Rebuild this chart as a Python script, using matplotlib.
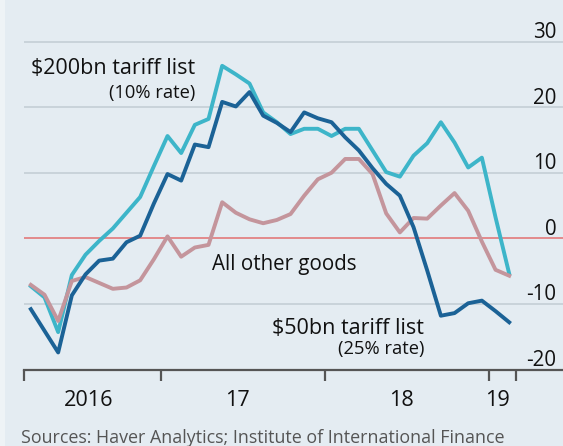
import matplotlib
matplotlib.use("Agg")
import matplotlib.pyplot as plt
from matplotlib.transforms import blended_transform_factory
from matplotlib.patches import Rectangle

plt.rcParams['font.family'] = ['Open Sans', 'DejaVu Sans']

# ---- data ----
months = ["2016-03", "2016-04", "2016-05", "2016-06", "2016-07", "2016-08",
          "2016-09", "2016-10", "2016-11", "2016-12", "2017-01", "2017-02",
          "2017-03", "2017-04", "2017-05", "2017-06", "2017-07", "2017-08",
          "2017-09", "2017-10", "2017-11", "2017-12", "2018-01", "2018-02",
          "2018-03", "2018-04", "2018-05", "2018-06", "2018-07", "2018-08",
          "2018-09", "2018-10", "2018-11", "2018-12", "2019-01", "2019-02"]

list_200bn = [-7.3, -9.0, -14.3, -5.6, -2.5, -0.4, 1.5, 3.9, 6.3, 11.0, 15.6, 13.0,
              17.3, 18.2, 26.3, 25.0, 23.6, 19.2, 17.7, 15.9, 16.7, 16.7, 15.6, 16.7,
              16.7, 13.4, 10.1, 9.4, 12.6, 14.5, 17.7, 14.6, 10.8, 12.3, 3.2, -5.4]

list_50bn = [-10.8, -14.1, -17.4, -8.7, -5.5, -3.4, -3.1, -0.6, 0.4, 5.3, 9.8, 8.8,
             14.3, 13.9, 20.8, 20.1, 22.3, 18.7, 17.6, 16.2, 19.2, 18.3, 17.7, 15.4,
             13.4, 10.7, 8.3, 6.5, 1.7, -4.9, -11.8, -11.4, -9.9, -9.5, -11.1, -12.8]

other_goods = [-7.1, -8.6, -12.6, -6.5, -5.9, -6.8, -7.7, -7.5, -6.4, -3.2, 0.3, -2.8,
               -1.4, -1.0, 5.5, 3.9, 2.9, 2.3, 2.8, 3.7, 6.5, 9.0, 10.0, 12.1,
               12.1, 9.8, 3.8, 0.9, 3.1, 3.0, 5.0, 6.9, 4.2, -0.5, -4.8, -5.7]

y_ticks = [30, 20, 10, 0, -10, -20]
year_labels = ["2016", "17", "18", "19"]
source_text = "Sources: Haver Analytics; Institute of International Finance"

# mid-month positions in fractional years
x = [int(m[:4]) + (int(m[5:]) - 1 + 0.5) / 12 for m in months]

# ---- style ----
BG = "#e4ecf2"
GRID = "#c4ced6"
C_200 = "#3db5c9"
C_50 = "#1b6296"
C_OTHER = "#c4959c"
C_ZERO = "#e28a8c"
AXIS = "#555555"

W, H = 563, 446
fig = plt.figure(figsize=(W / 100, H / 100), dpi=100, facecolor=BG)
fig.patches.append(Rectangle((0, 0), 5 / W, 1, transform=fig.transFigure,
                             facecolor="#eef3f6", edgecolor="none", zorder=0))

ax_left, ax_right = 24, 563
ax_top, ax_bottom = 0, 369.5
ax = fig.add_axes([ax_left / W, 1 - ax_bottom / H, (ax_right - ax_left) / W,
                   (ax_bottom - ax_top) / H])
ax.set_facecolor(BG)
ax.patch.set_alpha(0)

x0 = 2016 + 2 / 12
ax.set_xlim(x0, 2019.453)
ax.set_ylim(-20, 30 + 41.5 / 6.55)

for s in ["top", "right", "left"]:
    ax.spines[s].set_visible(False)
ax.spines["bottom"].set_color(AXIS)
ax.spines["bottom"].set_linewidth(1.6)

# gridlines
for v in y_ticks:
    if v == -20:
        continue
    if v == 0:
        ax.axhline(v, color=C_ZERO, lw=1.4, zorder=1)
    else:
        ax.axhline(v, color=GRID, lw=1.2, zorder=1)

# lines
ax.plot(x, list_200bn, color=C_200, lw=2.8, zorder=3, solid_joinstyle="round")
ax.plot(x, other_goods, color=C_OTHER, lw=2.8, zorder=4, solid_joinstyle="round")
ax.plot(x, list_50bn, color=C_50, lw=2.8, zorder=5, solid_joinstyle="round")

# y tick labels (right, above gridlines)
ax.set_yticks([])
tr = blended_transform_factory(ax.transAxes, ax.transData)
for v in y_ticks:
    ax.text(0.9875, v + 0.55, f"{v}", transform=tr, ha="right", va="baseline",
            fontsize=14.8, color="#111111")

# x ticks
tick_pos = [x0, 2017, 2018, 2019, 2019 + 2 / 12]
ax.set_xticks(tick_pos)
ax.set_xticklabels([""] * len(tick_pos))
ax.tick_params(axis="x", direction="out", length=8, width=1.6, color=AXIS)
label_pos = [2016.56, 2017.47, 2018.47, 2019.055]
trx = blended_transform_factory(ax.transData, fig.transFigure)
for p, lab in zip(label_pos, year_labels):
    ax.text(p, 1 - 406 / H, lab, transform=trx, ha="center", va="baseline",
            fontsize=15.6, color="#111111")

# annotations
ax.text(2017.212, 25.1, "$200bn tariff list", ha="right", va="baseline",
        fontsize=15.5, color="#111111", zorder=6)
ax.text(2017.212, 21.4, "(10% rate)", ha="right", va="baseline",
        fontsize=13.2, color="#111111", zorder=6)
ax.text(2017.31, -4.9, "All other goods", ha="left", va="baseline",
        fontsize=14.8, color="#111111", zorder=6)
ax.text(2018.605, -14.6, "$50bn tariff list", ha="right", va="baseline",
        fontsize=15.5, color="#111111", zorder=6)
ax.text(2018.605, -17.6, "(25% rate)", ha="right", va="baseline",
        fontsize=13.2, color="#111111", zorder=6)

fig.text(21 / W, 1 - 443 / H, source_text, ha="left", va="baseline",
         fontsize=12.9, color="#555555")

fig.savefig("out.png", dpi=100, facecolor=BG)
